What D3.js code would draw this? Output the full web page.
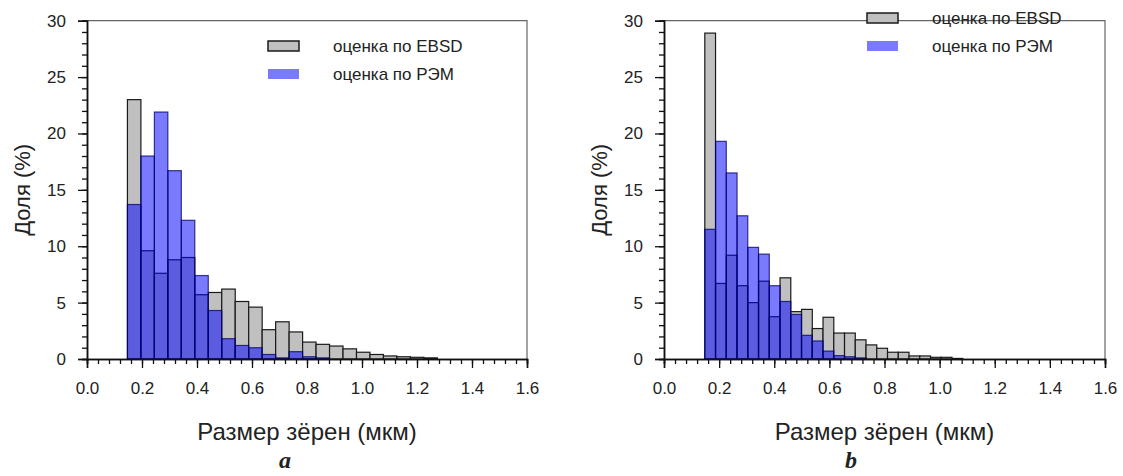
<!DOCTYPE html>
<html>
<head>
<meta charset="utf-8">
<title>Размер зёрен</title>
<script src="https://cdn.jsdelivr.net/npm/d3@7"></script>
<style>
  body { margin: 0; background: #fff; }
  svg text { font-family: "Liberation Sans", Arial, sans-serif; fill: #222; }
  .letter { font-family: "Liberation Serif", "Times New Roman", serif; font-style: italic; font-weight: bold; }
</style>
</head>
<body>
<svg id="chart" width="1123" height="476"></svg>
<script>
// tick values / labels
var xTicks = [0.0, 0.2, 0.4, 0.6, 0.8, 1.0, 1.2, 1.4, 1.6];
var yTicks = [0, 5, 10, 15, 20, 25, 30];
var legendLabels = ["оценка по EBSD", "оценка по РЭМ"];
var xTitle = "Размер зёрен (мкм)";
var yTitle = "Доля (%)";

// panel a: bins start at 0.147, width 0.049
var binStartA = 0.147, binWidthA = 0.049;
var ebsdA = [23.0, 9.6, 7.6, 8.8, 9.0, 5.7, 5.9, 6.2, 5.1, 4.6, 2.6, 3.3, 2.4, 1.5, 1.3, 1.15, 0.9, 0.6, 0.4, 0.27, 0.2, 0.15, 0.1];
var semA  = [13.7, 18.0, 21.9, 16.7, 12.3, 7.4, 4.3, 1.8, 1.2, 1.0, 0.4, 0.1, 0.65, 0.2, 0.1, 0, 0, 0, 0, 0, 0, 0, 0];

// panel b: bins start at 0.148, width 0.039
var binStartB = 0.148, binWidthB = 0.039;
var ebsdB = [28.9, 6.7, 9.2, 6.5, 5.0, 6.9, 3.75, 7.2, 4.2, 4.4, 2.7, 3.7, 2.3, 2.3, 1.7, 1.25, 0.95, 0.6, 0.6, 0.27, 0.27, 0.15, 0.15, 0.05];
var semB  = [11.5, 19.3, 16.5, 12.7, 9.9, 9.3, 6.5, 5.1, 3.95, 2.1, 1.6, 0.7, 0.3, 0.2, 0.1, 0, 0, 0, 0, 0, 0, 0, 0, 0];

var svg = d3.select("#chart");
svg.append("rect").attr("width", 1123).attr("height", 476).attr("fill", "#fff");

function drawPanel(p) {
  var g = svg.append("g");
  var x = d3.scaleLinear().domain([0, 1.6]).range([p.left, p.right]);
  var y = d3.scaleLinear().domain([0, 30]).range([p.bottom, p.top]);

  // frame (top + right)
  g.append("path")
    .attr("d", "M" + p.left + "," + p.top + "H" + p.right + "V" + p.bottom)
    .attr("fill", "none").attr("stroke", "#666").attr("stroke-width", 1.2);

  function bars(vals, start, w, fill, fillOp, stroke, strokeOp) {
    var bw = x(w) - x(0);
    g.append("g").selectAll("rect")
      .data(vals.map(function (v, i) { return {v: v, i: i}; }).filter(function (d) { return d.v > 0; }))
      .join("rect")
      .attr("x", function (d) { return x(start + d.i * w); })
      .attr("width", bw)
      .attr("y", function (d) { return y(d.v); })
      .attr("height", function (d) { return y(0) - y(d.v); })
      .attr("fill", fill).attr("fill-opacity", fillOp)
      .attr("stroke", stroke).attr("stroke-opacity", strokeOp).attr("stroke-width", 1.2);
  }
  bars(p.ebsd, p.start, p.width, "#c0c0c0", 1, "#1a1a1a", 1);
  bars(p.sem, p.start, p.width, "#0000ff", 0.52, "#000066", 0.75);

  // axes
  var minorX = d3.range(0, 41).map(function (i) { return i * 0.04; });
  var minorY = d3.range(0, 31);
  var gx = g.append("g").attr("transform", "translate(0," + p.bottom + ")");
  gx.call(d3.axisBottom(x).tickValues(minorX).tickSize(5).tickFormat(""));
  gx.append("g").call(d3.axisBottom(x).tickValues(xTicks).tickSize(9).tickPadding(14).tickFormat(d3.format(".1f")));
  var gy = g.append("g").attr("transform", "translate(" + p.left + ",0)");
  gy.call(d3.axisLeft(y).tickValues(minorY).tickSize(5).tickFormat(""));
  gy.append("g").call(d3.axisLeft(y).tickValues(yTicks).tickSize(9).tickPadding(12));
  g.selectAll(".domain").attr("stroke", "#111").attr("stroke-width", 1.5);
  g.selectAll(".tick line").attr("stroke", "#111").attr("stroke-width", 1.3);
  g.selectAll(".tick text").attr("font-size", 17).attr("fill", "#333")
    .attr("font-family", "Liberation Sans, Arial, sans-serif");

  // titles
  g.append("text").attr("x", (p.left + p.right) / 2).attr("y", 440)
    .attr("text-anchor", "middle").attr("font-size", 24).text(xTitle);
  g.append("text")
    .attr("transform", "translate(" + (p.left - 57) + "," + ((p.top + p.bottom) / 2) + ") rotate(-90)")
    .attr("text-anchor", "middle").attr("font-size", 22).text(yTitle);
  g.append("text").attr("class", "letter").attr("x", p.letterX).attr("y", 468)
    .attr("text-anchor", "middle").attr("font-size", 24).text(p.letter);

  // legend
  var lg = g.append("g");
  [["#c0c0c0", 1, "#1a1a1a"], ["#0000ff", 0.52, "#000066"]].forEach(function (s, i) {
    var yy = p.legY + i * 28;
    lg.append("rect").attr("x", p.legX).attr("y", yy).attr("width", 31).attr("height", 10)
      .attr("fill", s[0]).attr("fill-opacity", s[1]).attr("stroke", s[2]).attr("stroke-width", i ? 0 : 1.5);
    lg.append("text").attr("x", p.legX + 65).attr("y", yy + 11)
      .attr("font-size", 17).text(legendLabels[i]);
  });
}

drawPanel({left: 87, right: 527, top: 20.7, bottom: 359, start: binStartA, width: binWidthA,
  ebsd: ebsdA, sem: semA, legX: 268, legY: 41, letter: "a", letterX: 285});
drawPanel({left: 664, right: 1105, top: 20.7, bottom: 359, start: binStartB, width: binWidthB,
  ebsd: ebsdB, sem: semB, legX: 867, legY: 13, letter: "b", letterX: 851});
</script>
</body>
</html>
